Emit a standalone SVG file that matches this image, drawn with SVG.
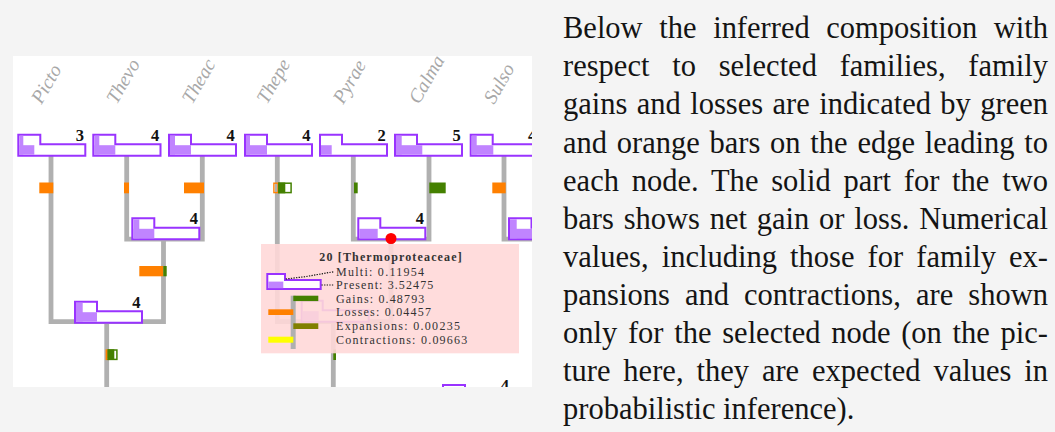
<svg xmlns="http://www.w3.org/2000/svg" width="1055" height="432" viewBox="0 0 1055 432">
<style>
.edge{fill:none;stroke:#b0b0b0;stroke-width:4.8;stroke-linejoin:miter}
.nb{fill:#fff;stroke:#9933ff;stroke-width:2}
.pf{fill:#c084ff}
.num{font-family:"Liberation Serif",serif;font-weight:bold;font-size:16.5px;fill:#111;text-anchor:end}
.lbl{font-family:"Liberation Serif",serif;font-style:italic;font-size:19.5px;fill:#a8a8a8}
.lo{fill:#ff8000}
.gn{fill:#448000}
.loo{fill:none;stroke:#ff8000;stroke-width:1.4}
.gno{fill:none;stroke:#448000;stroke-width:1.5}
.ttx{font-family:"Liberation Serif",serif;font-size:12px;fill:#333}
.ttt{font-family:"Liberation Serif",serif;font-size:12px;font-weight:bold;fill:#333}
.dot{fill:none;stroke:#111;stroke-width:1.2;stroke-dasharray:1.3 1.3}
.body{font-family:"Liberation Serif",serif;font-size:30.5px;fill:#141414}
</style>
<defs>
<clipPath id="panel"><rect x="13" y="56" width="519" height="331"/></clipPath>
</defs>
<rect x="0" y="0" width="1055" height="432" fill="#f4f4f4"/>
<rect x="13" y="56" width="519" height="331" fill="#fff"/>
<g clip-path="url(#panel)">
<g id="connectors">
<path class="edge" d="M51,156 V321.6 H163.5 V239"/>
<path class="edge" d="M126.7,156 V239.2 H202.3 V156"/>
<path class="edge" d="M106.7,322 V400"/>
<path class="edge" d="M277.3,156 V321.6 H391 V239"/>
<path class="edge" d="M353.3,156 V239.2 H429 V156"/>
<path class="edge" d="M333.3,322 V406 H620"/>
<path class="edge" d="M504,156 V239.2 H600"/>
</g>
<g id="bars">
<rect class="lo" x="39.3" y="182.5" width="14" height="10.8"/>
<rect class="lo" x="124" y="182.5" width="5" height="10.8"/>
<rect class="lo" x="184" y="182.5" width="20" height="10.8"/>
<rect class="loo" x="273.9" y="183.2" width="4.2" height="9.4"/>
<rect class="gn" x="278.3" y="182.5" width="7" height="10.8"/>
<rect class="gno" x="278.9" y="183.2" width="12.2" height="9.4"/>
<rect class="gn" x="354" y="182.5" width="3.7" height="10.8"/>
<rect class="gn" x="429.3" y="182.5" width="16.4" height="10.8"/>
<rect class="lo" x="492.3" y="182.5" width="13.4" height="10.8"/>
<rect class="lo" x="139.3" y="266" width="24" height="10.3"/>
<rect class="gn" x="163.3" y="266" width="3.4" height="10.3"/>
<rect class="loo" x="106.3" y="350" width="1.6" height="9.4"/>
<rect class="gn" x="107.7" y="349.3" width="6.6" height="10.7"/>
<rect class="gno" x="108.3" y="350" width="8.6" height="9.4"/>
<rect class="gn" x="333.3" y="349.5" width="2.7" height="10.5"/>
</g>
<g id="leaf-picto">
<path class="nb" d="M18.3,134.7 H40.3 V144.2 H85.3 V155.7 H18.3 Z"/>
<rect class="pf" x="19.3" y="135.7" width="4" height="19"/>
<rect class="pf" x="19.3" y="145.2" width="15" height="9.5"/>
<text class="num" x="84" y="140.8">3</text>
<text class="lbl" transform="translate(41.5,105) rotate(-60)">Picto</text>
</g>
<g id="leaf-thevo">
<path class="nb" d="M93.3,134.7 H115.3 V144.2 H160.5 V155.7 H93.3 Z"/>
<rect class="pf" x="94.3" y="135.7" width="5" height="19"/>
<rect class="pf" x="94.3" y="145.2" width="21" height="9.5"/>
<text class="num" x="159.2" y="140.8">4</text>
<text class="lbl" transform="translate(116.7,105) rotate(-60)">Thevo</text>
</g>
<g id="leaf-theac">
<path class="nb" d="M169,134.7 H191 V144.2 H236 V155.7 H169 Z"/>
<rect class="pf" x="170" y="135.7" width="5" height="19"/>
<rect class="pf" x="170" y="145.2" width="21" height="9.5"/>
<text class="num" x="234.7" y="140.8">4</text>
<text class="lbl" transform="translate(192.3,105) rotate(-60)">Theac</text>
</g>
<g id="leaf-thepe">
<path class="nb" d="M245,134.7 H267 V144.2 H312 V155.7 H245 Z"/>
<rect class="pf" x="246" y="135.7" width="4" height="19"/>
<rect class="pf" x="246" y="145.2" width="21" height="9.5"/>
<text class="num" x="310.6" y="140.8">4</text>
<text class="lbl" transform="translate(267,105) rotate(-60)">Thepe</text>
</g>
<g id="leaf-pyrae">
<path class="nb" d="M320,134.7 H342 V144.2 H387 V155.7 H320 Z"/>
<rect class="pf" x="321" y="145.2" width="10.7" height="9.5"/>
<text class="num" x="385.8" y="140.8">2</text>
<text class="lbl" transform="translate(343.3,105) rotate(-60)">Pyrae</text>
</g>
<g id="leaf-calma">
<path class="nb" d="M395,134.7 H417 V144.2 H462 V155.7 H395 Z"/>
<rect class="pf" x="396" y="135.7" width="5.7" height="19"/>
<rect class="pf" x="396" y="145.2" width="26.3" height="9.5"/>
<text class="num" x="460.8" y="140.8">5</text>
<text class="lbl" transform="translate(419,105) rotate(-60)">Calma</text>
</g>
<g id="leaf-sulso">
<path class="nb" d="M470.7,134.7 H492.7 V144.2 H537.7 V155.7 H470.7 Z"/>
<rect class="pf" x="471.7" y="135.7" width="5" height="19"/>
<rect class="pf" x="471.7" y="145.2" width="21.6" height="9.5"/>
<text class="num" x="536.3" y="140.8">4</text>
<text class="lbl" transform="translate(494,105) rotate(-60)">Sulso</text>
</g>
<g id="node-thevo-theac">
<path class="nb" d="M132.3,218.3 H154.3 V227.8 H199.3 V239.3 H132.3 Z"/>
<rect class="pf" x="133.3" y="219.3" width="6" height="19"/>
<rect class="pf" x="133.3" y="228.8" width="21" height="9.5"/>
<text class="num" x="198" y="224.4">4</text>
</g>
<g id="node-left">
<path class="nb" d="M75,301.7 H97 V311.2 H142 V322.7 H75 Z"/>
<rect class="pf" x="76" y="302.7" width="6.7" height="19"/>
<rect class="pf" x="76" y="312.2" width="21" height="9.5"/>
<text class="num" x="140.6" y="307.5">4</text>
</g>
<g id="node-thepe-20">
<path class="nb" d="M301.7,300.7 H322.7 V310.2 H368.7 V321.7 H301.7 Z"/>
<rect class="pf" x="302.7" y="311.2" width="16" height="9.5"/>
</g>
<g id="node-20">
<path class="nb" d="M358.3,218.3 H380.3 V227.8 H425.3 V239.3 H358.3 Z"/>
<rect class="pf" x="359.3" y="228.8" width="18.4" height="9.5"/>
<text class="num" x="424" y="224.4">4</text>
<circle cx="391" cy="238.5" r="5.5" fill="#ff0000"/>
</g>
<g id="node-sulso">
<path class="nb" d="M509,218.3 H531.5 V227.8 H576 V239.3 H509 Z"/>
<rect class="pf" x="510" y="219.3" width="6.7" height="19"/>
<rect class="pf" x="510" y="228.8" width="30" height="9.5"/>
</g>
<g id="node-bottom-right">
<path class="nb" d="M443,385 H465 V394.5 H510 V406 H443 Z"/>
<text class="num" x="509" y="390.8">4</text>
</g>
<g id="tooltip">
<rect x="261" y="244" width="258" height="109.3" fill="#ffd8d8" fill-opacity="0.9"/>
<text class="ttt" x="319.3" y="260.7" textLength="142.4" lengthAdjust="spacing">20 [Thermoproteaceae]</text>
<path class="nb" stroke-width="1.6" d="M267.3,274 H285 V280 H320.7 V289 H267.3 Z"/>
<rect class="pf" x="268.3" y="281.6" width="15" height="6.6"/>
<polyline class="dot" points="285.7,279 305,276.7 334,271.7"/>
<polyline class="dot" points="321.5,285 334,285"/>
<line x1="293.2" y1="295.7" x2="293.2" y2="349" stroke="#b0b0b0" stroke-width="5"/>
<rect x="293.3" y="295.7" width="25" height="5.4" fill="#448000"/>
<rect x="268.3" y="309.3" width="25" height="5.7" fill="#ff8000"/>
<rect x="293.3" y="323.3" width="25" height="5.7" fill="#808000"/>
<rect x="268.3" y="336.7" width="25" height="6" fill="#ffff00"/>
<text class="ttx" x="336" y="275.7" textLength="88" lengthAdjust="spacing">Multi: 0.11954</text>
<text class="ttx" x="336" y="289" textLength="97.3" lengthAdjust="spacing">Present: 3.52475</text>
<text class="ttx" x="336" y="302.6" textLength="88.3" lengthAdjust="spacing">Gains: 0.48793</text>
<text class="ttx" x="336" y="316.2" textLength="95" lengthAdjust="spacing">Losses: 0.04457</text>
<text class="ttx" x="336" y="330.2" textLength="124" lengthAdjust="spacing">Expansions: 0.00235</text>
<text class="ttx" x="336" y="344" textLength="131.3" lengthAdjust="spacing">Contractions: 0.09663</text>
</g>
</g>
<g id="caption" class="body">
<text x="563" y="38.2" word-spacing="9" textLength="485" lengthAdjust="spacing">Below the inferred composition with</text>
<text x="563" y="76.3" word-spacing="15.1" textLength="485" lengthAdjust="spacing">respect to selected families, family</text>
<text x="563" y="114.4" word-spacing="1.8" textLength="485" lengthAdjust="spacing">gains and losses are indicated by green</text>
<text x="563" y="152.5" word-spacing="2.1" textLength="485" lengthAdjust="spacing">and orange bars on the edge leading to</text>
<text x="563" y="190.6" word-spacing="5.1" textLength="485" lengthAdjust="spacing">each node. The solid part for the two</text>
<text x="563" y="228.7" word-spacing="2.2" textLength="485" lengthAdjust="spacing">bars shows net gain or loss. Numerical</text>
<text x="563" y="266.8" word-spacing="5.5" textLength="485" lengthAdjust="spacing">values, including those for family ex-</text>
<text x="563" y="304.9" word-spacing="7.5" textLength="485" lengthAdjust="spacing">pansions and contractions, are shown</text>
<text x="563" y="343" word-spacing="3.1" textLength="485" lengthAdjust="spacing">only for the selected node (on the pic-</text>
<text x="563" y="381.1" word-spacing="5.3" textLength="485" lengthAdjust="spacing">ture here, they are expected values in</text>
<text x="563" y="419.2">probabilistic inference).</text>
</g>
</svg>
